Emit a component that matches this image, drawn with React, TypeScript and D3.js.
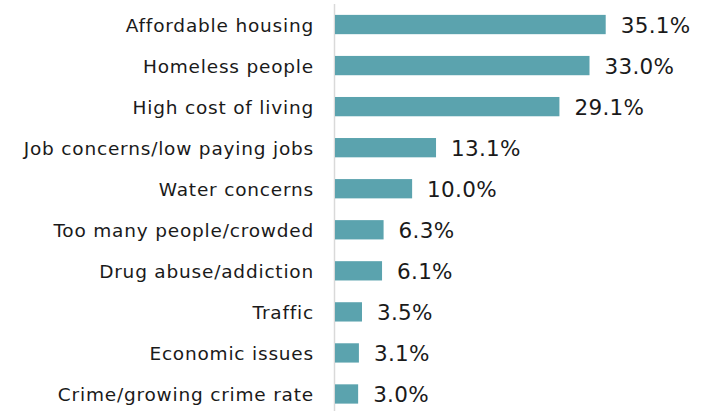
import React from "react";
import * as d3 from "d3";

const categories = [
  "Affordable housing",
  "Homeless people",
  "High cost of living",
  "Job concerns/low paying jobs",
  "Water concerns",
  "Too many people/crowded",
  "Drug abuse/addiction",
  "Traffic",
  "Economic issues",
  "Crime/growing crime rate",
];
const values = [35.1, 33.0, 29.1, 13.1, 10.0, 6.3, 6.1, 3.5, 3.1, 3.0];

const W = 705;
const H = 411;
const axisX = 334.5;

export default function App() {
  const x = d3.scaleLinear().domain([0, 35.1]).range([335, 605.7]);
  const y = d3
    .scaleBand<string>()
    .domain(categories)
    .range([4, 414.5])
    .paddingInner(0.53)
    .paddingOuter(0.265);
  const font = "'DejaVu Sans', sans-serif";
  return (
    <div style={{ position: "absolute", left: 0, top: 0 }}>
      <svg width={W} height={H} style={{ display: "block", background: "#fff" }}>
        <line x1={axisX} x2={axisX} y1={4} y2={H} stroke="#d9d9d9" strokeWidth={1.5} />
        {categories.map((c, i) => {
          const yy = y(c)!;
          const bw = y.bandwidth();
          const cy = yy + bw / 2;
          return (
            <g key={c}>
              <rect x={x(0)} y={yy} width={x(values[i]) - x(0)} height={bw} fill="#5ba3ae" />
              <text
                x={314}
                y={cy + 0.5}
                textAnchor="end"
                dominantBaseline="central"
                fontFamily={font}
                fontSize={18.5}
                letterSpacing={0.8}
                fill="#1a1a1a"
              >
                {c}
              </text>
              <text
                x={x(values[i]) + 15}
                y={cy + 0.5}
                dominantBaseline="central"
                fontFamily={font}
                fontSize={21.5}
                letterSpacing={0.3}
                fill="#1a1a1a"
              >
                {values[i].toFixed(1) + "%"}
              </text>
            </g>
          );
        })}
      </svg>
    </div>
  );
}
